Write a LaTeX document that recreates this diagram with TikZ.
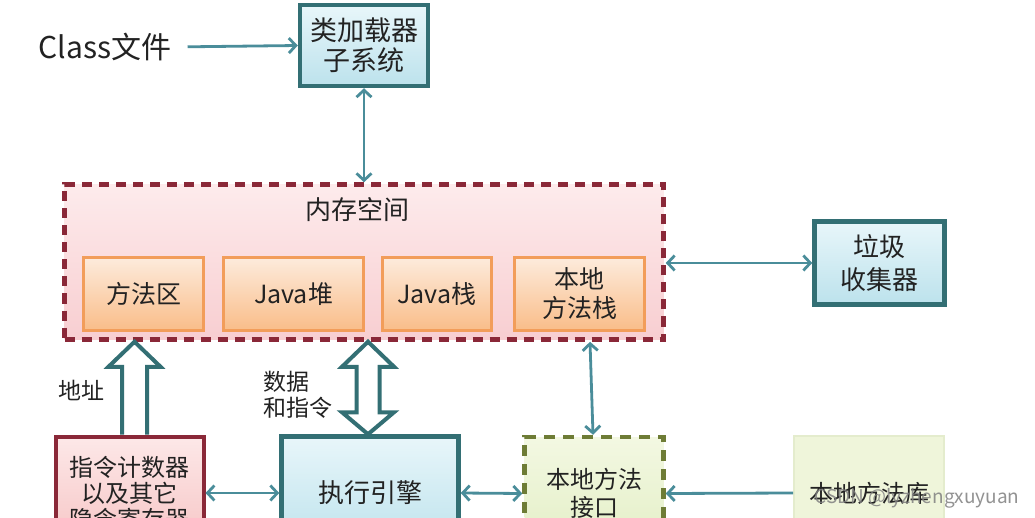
\documentclass[tikz,border=0pt]{standalone}
\usepackage{fontspec}
\setmainfont{Noto Sans CJK SC}
\usetikzlibrary{arrows.meta,calc}
\definecolor{tealb}{HTML}{336F74}
\definecolor{tealtop}{HTML}{E8F6FA}
\definecolor{tealbot}{HTML}{BCE2EC}
\definecolor{arrowc}{HTML}{4A8D9A}
\definecolor{memred}{HTML}{8A2838}
\definecolor{memtop}{HTML}{FDEBEC}
\definecolor{membot}{HTML}{F8CED1}
\definecolor{orab}{HTML}{F29D5A}
\definecolor{oratop}{HTML}{FDEBDC}
\definecolor{orabot}{HTML}{F9BD89}
\definecolor{pctop}{HTML}{FDE8E8}
\definecolor{pcbot}{HTML}{F6C4C4}
\definecolor{olive}{HTML}{6E7C36}
\definecolor{nitop}{HTML}{F3F8E2}
\definecolor{nibot}{HTML}{E3EFC6}
\definecolor{libfill}{HTML}{EFF5DA}
\definecolor{libb}{HTML}{E4ECCD}
\definecolor{txtc}{HTML}{222222}
\newcommand\fsz[2]{\fontsize{#1}{#2}\selectfont}
\tikzset{
  txt/.style={text=txtc, inner sep=0pt, align=center},
  tealbox/.style={draw=tealb, line width=4.5pt, top color=tealtop, bottom color=tealbot, text=txtc, align=center},
  membox/.style={draw=memred, line width=4.5pt, dash pattern=on 10pt off 7pt, top color=memtop, bottom color=membot},
  orabox/.style={draw=orab, line width=3pt, top color=oratop, bottom color=orabot, text=txtc, align=center, minimum height=73, font=\fsz{25}{29}},
  pcbox/.style={draw=memred, line width=4pt, top color=pctop, bottom color=pcbot, text=txtc, align=center},
  nibox/.style={draw=olive, line width=4.5pt, dash pattern=on 11pt off 8pt, top color=nitop, bottom color=nibot, text=txtc, align=center},
  libbox/.style={draw=libb, line width=2pt, fill=libfill, text=txtc, align=center},
  conn/.style={draw=arrowc, line width=2.8pt, arrows={Straight Barb[length=7pt,width=15pt]-Straight Barb[length=7pt,width=15pt]}},
  conn1/.style={draw=arrowc, line width=2.8pt, arrows={-Straight Barb[length=7pt,width=15pt]}},
  hollow/.style={draw=tealb, line width=4pt, fill=white, line join=miter}
}
\begin{document}
\begin{tikzpicture}[x=1pt,y=-1pt]
\useasboundingbox (0,0) rectangle (1035,518);
\clip (0,0) rectangle (1035,518);
\fill[white] (0,0) rectangle (1035,518);

% top
\node[txt, font=\fsz{30}{34}] (cls) at (105,47) {Class文件};
\node[tealbox, minimum width=128, minimum height=81, font=\fsz{27}{30}] (loader) at (364,45.5) {类加载器\\子系统};

% memory space
\node[membox, minimum width=599, minimum height=155] (mem) at (364,262) {};
\node[txt, font=\fsz{26}{30}] (memt) at (357,210) {内存空间};
\node[orabox, minimum width=120] (ma) at (143.5,294) {方法区};
\node[orabox, minimum width=140] (heap) at (293.5,294) {Java堆};
\node[orabox, minimum width=109] (jst) at (437,294) {Java栈};
\node[orabox, minimum width=130] (nst) at (579.5,294) {本地\\方法栈};

% garbage collector
\node[tealbox, minimum width=130, minimum height=83, font=\fsz{26}{33}] (gc) at (879.5,263) {垃圾\\收集器};

% bottom row
\node[pcbox, minimum width=148, minimum height=113, font=\fsz{24}{26}] (pc) at (129.5,493) {指令计数器\\以及其它\\隐含寄存器};
\node[tealbox, minimum width=177, minimum height=113, font=\fsz{26}{30}] (eng) at (370,493) {执行引擎};
\node[nibox, minimum width=139, minimum height=113, font=\fsz{24}{28}] (nif) at (594,493.5) {本地方法\\接口};
\node[libbox, minimum width=150, minimum height=115, font=\fsz{24}{28}] (lib) at (869,493) {本地方法库};

% labels
\node[txt, font=\fsz{23}{26}] (addr) at (81,390) {地址};
\node[txt, font=\fsz{23}{26}, align=left, anchor=west] (dat) at (263,395) {数据\\和指令};

% connectors
\draw[conn1, shorten <=16pt] (cls.east) -- (loader.west);
\draw[conn] (loader.south) -- (mem.north -| loader.south);
\draw[conn] (mem.east |- gc.west) -- (gc.west);
\draw[conn] (pc.east) -- (eng.west);
\draw[conn] (eng.east) -- (nif.west);
\draw[conn1] (lib.west) -- (nif.east);
\coordinate (vx1) at (590,0);
\coordinate (vx2) at (593,0);
\draw[conn] (mem.south -| vx1) -- (nif.north -| vx2);

% hollow arrows
\coordinate (hx1) at (134.5,0);
\coordinate (a1b) at (pc.north -| hx1);
\coordinate (a1t) at (mem.south -| hx1);
\draw[hollow] ($(a1b)+(-12.5,0)$) -- ($(a1t)+(-12.5,25)$) -- ($(a1t)+(-26,25)$) -- (a1t) -- ($(a1t)+(26,25)$) -- ($(a1t)+(12.5,25)$) -- ($(a1b)+(12.5,0)$);
\coordinate (hx2) at (368,0);
\coordinate (a2t) at (mem.south -| hx2);
\coordinate (a2b) at (eng.north -| hx2);
\draw[hollow] (a2t) -- ($(a2t)+(26,25)$) -- ($(a2t)+(11.5,25)$) -- ($(a2b)+(11.5,-22)$) -- ($(a2b)+(26,-22)$) -- (a2b) -- ($(a2b)+(-26,-22)$) -- ($(a2b)+(-11.5,-22)$) -- ($(a2t)+(-11.5,25)$) -- ($(a2t)+(-26,25)$) -- cycle;

% watermark
\node[inner sep=0pt, text=black!50, font=\fsz{19}{22}, text opacity=0.85] (wm) at (917,498) {CSDN @lyzhengxuyuan};
\end{tikzpicture}
\end{document}
